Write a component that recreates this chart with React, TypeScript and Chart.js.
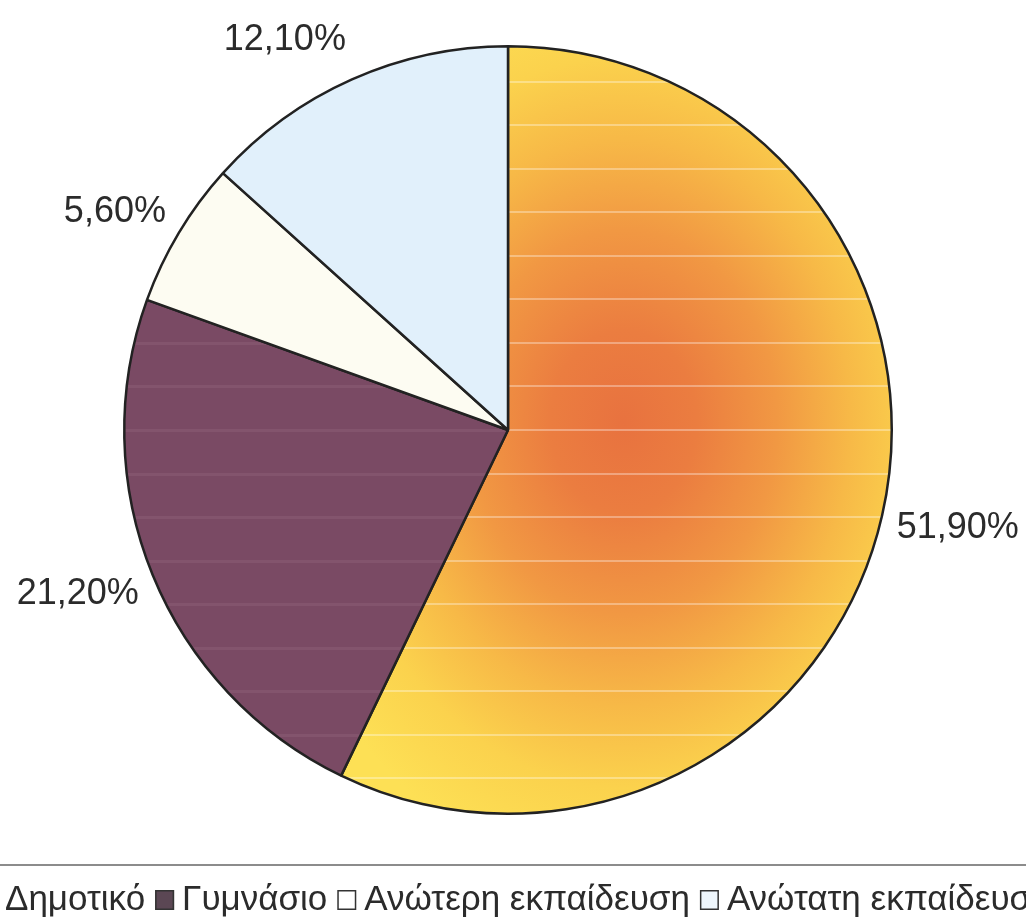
import { useEffect, useRef } from "react";
import { Chart, registerables } from "chart.js";

Chart.register(...registerables);

// Education level shares (%)
const categories = ["Δημοτικό", "Γυμνάσιο", "Ανώτερη εκπαίδευση", "Ανώτατη εκπαίδευση"];
const shares = [51.9, 21.2, 5.6, 12.1];
const sliceColors = ["#fcd64e", "#7a4a64", "#fdfcf2", "#e1f0fb"];
const legendSwatches = ["#fcd64e", "#5b4754", "#ffffff", "#eef6fc"];
const stripeStyles = ["rgba(255,255,255,0.33)", "rgba(255,220,240,0.07)", "", ""];

const W = 1026;
const H = 921;
const FONT = '"Liberation Sans", Arial, Helvetica, sans-serif';
const INK = "#2b2b2b";

function formatShare(v: number): string {
  return v.toFixed(2).replace(".", ",") + "%";
}

const fillCache = new Map<string, CanvasPattern | string>();

// Each slice is filled from an offscreen canvas the size of the chart, so the
// warm glow and the faint horizontal bands line up across the whole pie.
function sliceFill(ctx: any): CanvasPattern | string {
  const chart = ctx.chart;
  const i = ctx.dataIndex;
  const area = chart.chartArea;
  if (!area) return sliceColors[i];
  const cx = (area.left + area.right) / 2;
  const cy = (area.top + area.bottom) / 2;
  const r = Math.min(area.width, area.height) / 2;
  const key = `${i}:${cx}:${cy}:${r}`;
  const cached = fillCache.get(key);
  if (cached) return cached;

  const off = document.createElement("canvas");
  off.width = chart.width;
  off.height = chart.height;
  const g = off.getContext("2d");
  if (!g) return sliceColors[i];

  if (i === 0) {
    const hx = cx + r * 0.3;
    const hy = cy - r * 0.02;
    g.save();
    g.translate(hx, hy);
    g.scale(1, 1.25);
    const grad = g.createRadialGradient(0, 0, 0, 0, 0, r * 0.95);
    grad.addColorStop(0, "#e8723f");
    grad.addColorStop(0.2, "#eb7d40");
    grad.addColorStop(0.42, "#f19843");
    grad.addColorStop(0.62, "#f7b947");
    grad.addColorStop(0.8, "#fbd24d");
    grad.addColorStop(1, "#fde055");
    g.fillStyle = grad;
    g.fillRect(-off.width * 2, -off.height * 2, off.width * 4, off.height * 4);
    g.restore();
  } else {
    g.fillStyle = sliceColors[i];
    g.fillRect(0, 0, off.width, off.height);
  }

  if (stripeStyles[i]) {
    const step = r * 0.113;
    g.fillStyle = stripeStyles[i];
    const first = cy - Math.ceil(r / step) * step;
    for (let y = first; y <= cy + r; y += step) {
      g.fillRect(0, Math.round(y) - 1, off.width, i === 0 ? 2 : 3);
    }
  }

  const pattern = g.createPattern(off, "no-repeat") || sliceColors[i];
  fillCache.set(key, pattern);
  return pattern;
}

// Percentage labels just outside each slice
const shareLabels = {
  id: "shareLabels",
  afterDatasetsDraw(chart: any) {
    const meta = chart.getDatasetMeta(0);
    const c = chart.ctx;
    c.save();
    c.font = `36px ${FONT}`;
    c.fillStyle = INK;
    c.textBaseline = "middle";
    meta.data.forEach((arc: any, i: number) => {
      const { x, y, startAngle, endAngle, outerRadius } = arc.getProps(
        ["x", "y", "startAngle", "endAngle", "outerRadius"],
        true
      );
      const mid = (startAngle + endAngle) / 2;
      const cos = Math.cos(mid);
      const sin = Math.sin(mid);
      const d = outerRadius + 15;
      c.textAlign = cos >= 0 ? "left" : "right";
      c.fillText(formatShare(shares[i]), x + d * cos, y + d * sin + 30 * sin + 2);
    });
    c.restore();
  },
};

// Single-row legend under a grey rule
const bottomLegend = {
  id: "bottomLegend",
  afterDraw(chart: any) {
    const c = chart.ctx;
    c.save();
    c.strokeStyle = "#8c8c8c";
    c.lineWidth = 2;
    c.beginPath();
    c.moveTo(0, 865);
    c.lineTo(chart.width, 865);
    c.stroke();

    c.font = `35px ${FONT}`;
    c.textAlign = "left";
    c.textBaseline = "alphabetic";
    const boxW = 19;
    const boxH = 20;
    const gapIn = 8;
    const gapOut = 10;
    const baseY = 910;
    let x = 5 - gapIn - boxW;
    categories.forEach((name, i) => {
      c.fillStyle = legendSwatches[i];
      c.fillRect(x, baseY - boxH, boxW, boxH);
      c.strokeStyle = "#333333";
      c.lineWidth = 1.5;
      c.strokeRect(x + 0.75, baseY - boxH + 0.75, boxW - 1.5, boxH - 1.5);
      x += boxW + gapIn;
      c.fillStyle = INK;
      c.fillText(name, x, baseY);
      x += c.measureText(name).width + gapOut;
    });
    c.restore();
  },
};

export default function App() {
  const canvasRef = useRef<HTMLCanvasElement>(null);

  useEffect(() => {
    const canvas = canvasRef.current;
    if (!canvas) return;
    const chart = new Chart(canvas, {
      type: "pie",
      data: {
        labels: categories,
        datasets: [
          {
            data: shares,
            backgroundColor: sliceFill as any,
            borderColor: "#222222",
            borderWidth: 2.5,
          },
        ],
      },
      options: {
        responsive: false,
        animation: false,
        events: [],
        layout: { padding: { left: 123, top: 45, right: 133, bottom: 106 } },
        plugins: {
          legend: { display: false },
          tooltip: { enabled: false },
        },
      },
      plugins: [shareLabels, bottomLegend],
    });
    return () => chart.destroy();
  }, []);

  return (
    <div style={{ position: "fixed", left: 0, top: 0, width: W, height: H, background: "#ffffff" }}>
      <canvas ref={canvasRef} width={W} height={H} style={{ display: "block" }} />
    </div>
  );
}
